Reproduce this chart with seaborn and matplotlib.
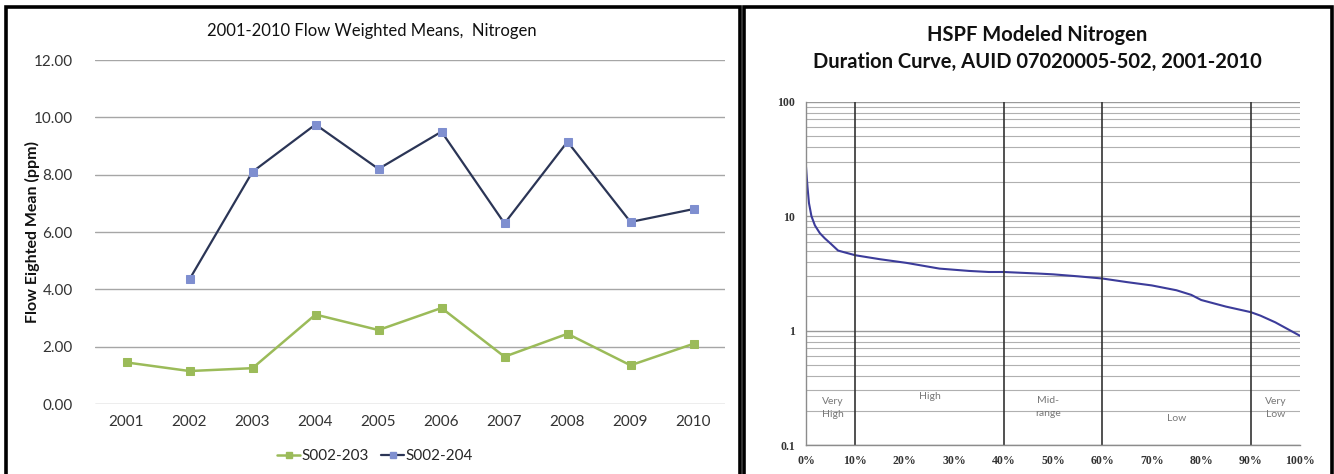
import numpy as np
import pandas as pd
import matplotlib
matplotlib.use("Agg")
import matplotlib.pyplot as plt
import seaborn as sns
from matplotlib.patches import Rectangle
from matplotlib.lines import Line2D
from matplotlib.ticker import FixedLocator, LogLocator, NullFormatter, FuncFormatter

sns.set_theme(style="white")
plt.rcParams['font.family'] = ['Lato', 'DejaVu Sans']

# ---- data: left panel ----
years = [2001, 2002, 2003, 2004, 2005, 2006, 2007, 2008, 2009, 2010]
s203 = [1.45, 1.15, 1.25, 3.12, 2.58, 3.35, 1.65, 2.45, 1.35, 2.10]
s204 = [np.nan, 4.35, 8.10, 9.75, 8.20, 9.50, 6.30, 9.15, 6.35, 6.80]
y_ticks = [0, 2, 4, 6, 8, 10, 12]

# ---- data: right panel (duration curve) ----
pct = [0.0, 0.3, 0.6, 1.1, 1.8, 2.8, 3.8, 4.9, 6.5, 8.0, 10, 15, 20.4, 27, 33, 37, 40,
       47, 50, 55, 60, 65, 70, 75, 78, 80, 85, 90, 92, 95, 100]
conc = [27, 18, 13, 10, 8.3, 7.1, 6.4, 5.8, 5.0, 4.8, 4.55, 4.2, 3.9, 3.48, 3.32, 3.25, 3.25,
        3.15, 3.10, 2.98, 2.85, 2.65, 2.48, 2.25, 2.05, 1.85, 1.62, 1.45, 1.35, 1.18, 0.9]
pct_ticks = [0, 10, 20, 30, 40, 50, 60, 70, 80, 90, 100]
flow_bounds = [10, 40, 60, 90]
zone_labels = ["Very\nHigh", "High", "Mid-\nrange", "Low", "Very\nLow"]
zone_x = [5.5, 25, 49, 75, 95]
zone_y = [0.21, 0.265, 0.215, 0.17, 0.21]

W, H = 1334, 474
fig = plt.figure(figsize=(W / 100, H / 100), dpi=100)

# panel borders
fig.patches.append(Rectangle((6 / W, -0.05), (740 - 6) / W, 1.05 - 7 / H,
                             transform=fig.transFigure, fill=False, edgecolor='black',
                             linewidth=2.6, zorder=0))
fig.patches.append(Rectangle((744 / W, -0.05), (1332 - 744) / W, 1.05 - 7 / H,
                             transform=fig.transFigure, fill=False, edgecolor='black',
                             linewidth=2.6, zorder=0))

# ---------------- left panel ----------------
axL = fig.add_axes([95 / W, 1 - 404 / H, (725 - 95) / W, (404 - 60) / H])
df = pd.DataFrame({"year": years, "S002-203": s203, "S002-204": s204})
green = "#9BBB59"
navy_line = "#2B3556"
blue_mk = "#7F8FD0"
sns.lineplot(data=df, x="year", y="S002-203", ax=axL, color=green, linewidth=1.8,
             marker='s', markersize=6, markeredgecolor=green, markerfacecolor=green)
sns.lineplot(data=df.dropna(), x="year", y="S002-204", ax=axL, color=navy_line, linewidth=1.6,
             marker='s', markersize=6, markeredgecolor=blue_mk, markerfacecolor=blue_mk)
axL.set_xlim(years[0] - 0.5, years[-1] + 0.5)
axL.set_ylim(0, 12)
axL.set_xticks(years)
axL.set_xticklabels([str(y) for y in years], fontsize=11, color='#333333')
axL.set_yticks(y_ticks)
axL.set_yticklabels([f"{v:.2f}" for v in y_ticks], fontsize=11, color='#333333')
axL.tick_params(axis='y', pad=16, length=0)
axL.tick_params(axis='x', pad=8, length=0)
axL.grid(axis='y', color='#A6A6A6', linewidth=1.0)
axL.grid(axis='x', visible=False)
for s in axL.spines.values():
    s.set_visible(False)
axL.set_xlabel("")
axL.set_ylabel("")
fig.text(32 / W, 1 - 232 / H, "Flow Eighted Mean (ppm)", rotation=90, ha='center', va='center',
         fontsize=11.5, fontweight='bold', color='#111111')
fig.text(372 / W, 1 - 31 / H, "2001-2010 Flow Weighted Means,  Nitrogen",
         ha='center', va='center', fontsize=12, color='#111111')
handles = [Line2D([0], [0], color=green, marker='s', markersize=5, linewidth=1.8),
           Line2D([0], [0], color=navy_line, marker='s', markersize=5, linewidth=1.6,
                  markerfacecolor=blue_mk, markeredgecolor=blue_mk)]
fig.legend(handles, ["S002-203", "S002-204"], loc='center', bbox_to_anchor=(375 / W, 1 - 456 / H),
           ncol=2, frameon=False, fontsize=11, handlelength=1.5, handletextpad=0.1,
           columnspacing=0.8)

# ---------------- right panel ----------------
axR = fig.add_axes([806 / W, 1 - 445 / H, (1300 - 806) / W, (445 - 101.7) / H])
dfc = pd.DataFrame({"pct": pct, "conc": conc})
sns.lineplot(data=dfc, x="pct", y="conc", ax=axR, color="#3C3C9A", linewidth=1.5)
axR.set_yscale('log')
axR.set_ylim(0.1, 100)
axR.set_xlim(0, 100)
axR.yaxis.set_major_locator(FixedLocator([0.1, 1, 10, 100]))
axR.yaxis.set_major_formatter(FuncFormatter(lambda v, p: f"{v:g}"))
axR.yaxis.set_minor_locator(LogLocator(base=10, subs=np.arange(2, 10)))
axR.yaxis.set_minor_formatter(NullFormatter())
axR.set_xticks(pct_ticks)
axR.set_xticklabels([f"{t}%" for t in pct_ticks])
axR.grid(which='major', axis='y', color='#9A9A9A', linewidth=1.0)
axR.grid(which='minor', axis='y', color='#B0B0B0', linewidth=0.8)
axR.grid(axis='x', visible=False)
for xb in flow_bounds:
    axR.axvline(xb, color='#333333', linewidth=1.2)
for s in ['top', 'right']:
    axR.spines[s].set_visible(False)
for s in ['left', 'bottom']:
    axR.spines[s].set_color('#8C8C8C')
    axR.spines[s].set_linewidth(1.0)
axR.tick_params(axis='x', which='major', length=3, color='#8C8C8C', pad=4)
axR.tick_params(axis='y', which='major', length=3, color='#8C8C8C', pad=5)
axR.tick_params(axis='y', which='minor', length=0)
for lab in axR.get_xticklabels() + axR.get_yticklabels():
    lab.set_fontfamily(['Liberation Serif', 'DejaVu Serif'])
    lab.set_fontsize(8.5)
    lab.set_fontweight('bold')
    lab.set_color('#333333')
axR.set_xlabel("")
axR.set_ylabel("")
for lbl, zx, zy in zip(zone_labels, zone_x, zone_y):
    axR.text(zx, zy, lbl, ha='center', va='center', fontsize=7.5, color='#777777',
             linespacing=1.5)
fig.text(1037 / W, 1 - 35 / H, "HSPF Modeled Nitrogen",
         ha='center', va='center', fontsize=14.5, fontweight='bold', color='#111111')
fig.text(1037 / W, 1 - 62 / H, "Duration Curve, AUID 07020005-502, 2001-2010",
         ha='center', va='center', fontsize=14.5, fontweight='bold', color='#111111')

fig.savefig("out.png", dpi=100)
